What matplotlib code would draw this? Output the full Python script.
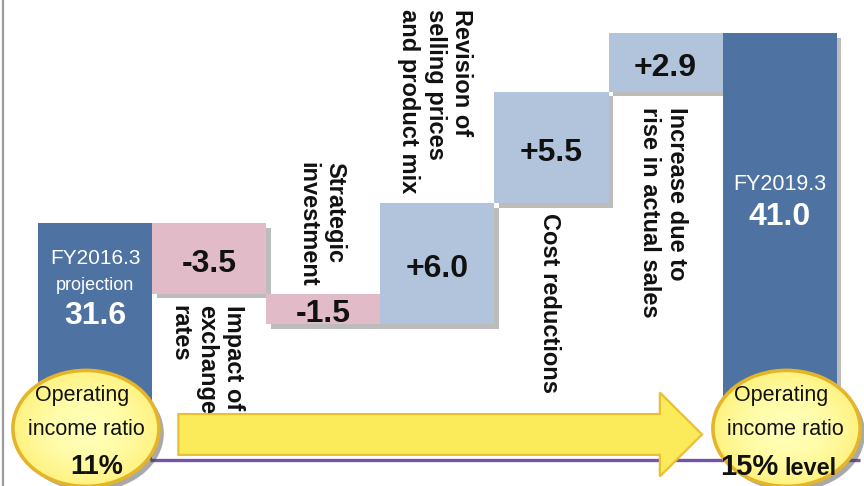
import numpy as np
import matplotlib
matplotlib.use("Agg")
import matplotlib.pyplot as plt
from matplotlib import patheffects as pe
from matplotlib.patches import Ellipse, FancyArrow
from matplotlib.lines import Line2D
from matplotlib.colors import to_rgb

plt.rcParams['font.family'] = ['Liberation Sans', 'DejaVu Sans']

# Operating income bridge, FY2016.3 projection -> FY2019.3 target
start_title = "FY2016.3"
start_subtitle = "projection"
start_value = 31.6
end_title = "FY2019.3"
end_value = 41.0
step_labels = [
    "Impact of\nexchange\nrates",
    "Strategic\ninvestment",
    "Revision of\nselling prices\nand product mix",
    "Cost reductions",
    "Increase due to\nrise in actual sales",
]
step_values = [-3.5, -1.5, 6.0, 5.5, 2.9]
ratio_title = "Operating\nincome ratio"
ratio_start = "11%"
ratio_end = "15%"
ratio_end_suffix = "level"
baseline = 19.9

DARK = "#4E73A2"
PINK = "#E1BBC8"
LIGHT = "#B1C4DB"

fig = plt.figure(figsize=(8.64, 4.86), dpi=100)
ax = fig.add_axes([0, 0, 1, 1])
ax.set_axis_off()


def shadowed(alpha=0.38):
    return [pe.SimplePatchShadow(offset=(3.2, -3.2), shadow_rgbFace="#505050", alpha=alpha),
            pe.Normal()]


# waterfall geometry from the data
levels = start_value + np.cumsum(step_values)
prev = np.concatenate([[start_value], levels[:-1]])
step_bottoms = np.minimum(prev, levels)
step_heights = np.abs(step_values)
step_colors = [PINK if v < 0 else LIGHT for v in step_values]
n_steps = len(step_values)

ax.bar(0, start_value - baseline, bottom=baseline, width=1.0, color=DARK, zorder=2)
bars = []
for i in range(n_steps):
    b = ax.bar(i + 1, step_heights[i], bottom=step_bottoms[i], width=1.0,
               color=step_colors[i], zorder=2)
    bars.append(b[0])
b = ax.bar(n_steps + 1, end_value - baseline, bottom=baseline, width=1.0, color=DARK, zorder=2)
bars.append(b[0])
for p in bars:
    p.set_path_effects(shadowed())

# value labels on the step bars
for i, v in enumerate(step_values):
    mid = step_bottoms[i] + step_heights[i] / 2
    ax.text(i + 1, mid - 0.25, f"{v:+.1f}", ha="center", va="center",
            fontsize=23, fontweight="bold", color="#111111", zorder=5)

# rotated category labels beside each step bar
label_side = ["below", "above", "above", "below", "below"]
label_gap = [0.55, 0.35, 0.5, 0.5, 0.75]
for i, lab in enumerate(step_labels):
    lo, hi = step_bottoms[i], step_bottoms[i] + step_heights[i]
    if label_side[i] == "below":
        y, va = lo - label_gap[i], "top"
    else:
        y, va = hi + label_gap[i], "bottom"
    ax.text(i + 1 - 0.02, y, lab, rotation=270, ha="center", va=va,
            multialignment="left", linespacing=1.2,
            fontsize=17, fontweight="bold", color="#111111", zorder=5)

# texts inside the start / end bars
ax.text(0, start_value - 1.75, start_title, ha="center", va="center",
        fontsize=15, color="white", zorder=5)
ax.text(0, start_value - 3.1, start_subtitle, ha="center", va="center",
        fontsize=13, color="white", zorder=5)
ax.text(0, start_value - 4.6, f"{start_value:.1f}", ha="center", va="center",
        fontsize=23, fontweight="bold", color="white", zorder=5)
ax.text(n_steps + 1, end_value - 7.5, end_title, ha="center", va="center",
        fontsize=15.5, color="white", zorder=5)
ax.text(n_steps + 1, end_value - 9.1, f"{end_value:.1f}", ha="center", va="center",
        fontsize=23, fontweight="bold", color="white", zorder=5)

# baseline rule
ax.hlines(baseline, 0.48, n_steps + 1.7, color="#7455A4", lw=2.4, zorder=3)

# progress arrow
arrow = FancyArrow(0.73, 21.15, 4.59, 0, width=2.02, head_width=4.15, head_length=0.37,
                   length_includes_head=True, facecolor="#FBEB5A", edgecolor="#E8C032",
                   lw=1.6, zorder=4)
ax.add_patch(arrow)


def ratio_badge(cx, cy, w, h):
    base = Ellipse((cx, cy), w, h, facecolor="#FFF9A0", edgecolor="none", zorder=6,
                   path_effects=[pe.SimplePatchShadow(offset=(3.5, -3.5), shadow_rgbFace="#404040",
                                                      alpha=0.45), pe.Normal()])
    ax.add_patch(base)
    n = 200
    yy, xx = np.mgrid[-1:1:n * 1j, -1:1:n * 1j]
    r = np.clip(np.sqrt(xx ** 2 + yy ** 2), 0, 1)
    c0 = np.array(to_rgb("#FFFFB6"))
    c1 = np.array(to_rgb("#FFF27E"))
    img = c0 + (c1 - c0) * (r ** 2)[..., None]
    im = ax.imshow(img, extent=(cx - w / 2, cx + w / 2, cy - h / 2, cy + h / 2),
                   origin="lower", aspect="auto", interpolation="bilinear", zorder=6.1)
    im.set_clip_path(base)
    ax.add_patch(Ellipse((cx, cy), w, h, facecolor="none", edgecolor="#E4B42A",
                         lw=2.6, zorder=6.2))


ratio_badge(-0.08, 21.45, 1.28, 5.74)
ratio_badge(6.06, 21.45, 1.29, 5.74)

title_lines = ratio_title.split("\n")
for cx, dx0, dx1 in [(-0.08, -0.035, 0.0), (6.06, -0.045, -0.01)]:
    ax.text(cx + dx0, 22.81, title_lines[0], ha="center", va="baseline",
            fontsize=15.5, color="#111111", zorder=7)
    ax.text(cx + dx1, 21.12, title_lines[1], ha="center", va="baseline",
            fontsize=15.5, color="#111111", zorder=7)

ax.text(0.01, 19.2, ratio_start, ha="center", va="baseline",
        fontsize=19.5, fontweight="bold", color="#111111", zorder=7)
ax.text(5.99, 19.15, ratio_end, ha="right", va="baseline",
        fontsize=21, fontweight="bold", color="#111111", zorder=7)
ax.text(6.045, 19.15, ratio_end_suffix, ha="left", va="baseline",
        fontsize=17, fontweight="bold", color="#111111", zorder=7)

ax.set_xlim(-0.833, 6.739)
ax.set_ylim(18.60, 42.648)

# thin frame rule on the left edge
fig.add_artist(Line2D([2.5 / 864, 2.5 / 864], [0, 1], color="#9A9A9A", lw=1.6))

fig.savefig("out.png", dpi=100)
